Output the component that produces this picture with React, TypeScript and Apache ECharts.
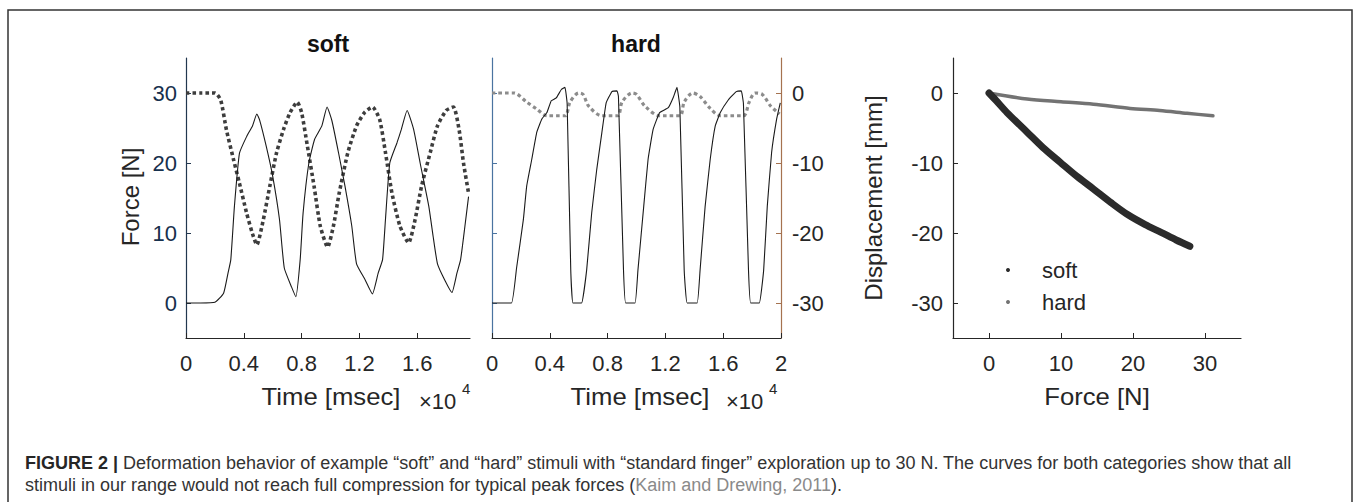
import React, { useEffect, useRef } from "react";
import * as echarts from "echarts";

// ---------- data ----------
const timeTickValues = [0, 4000, 8000, 12000, 16000, 20000];
const softTimeTickValues = [0, 4000, 8000, 12000, 16000];
const forceTickValues = [0, 10, 20, 30];
const dispTickValues = [0, -10, -20, -30];
const forceAxisTickValues = [0, 10, 20, 30];

// soft stimulus: time [msec] vs force [N]
const softForce: [number, number][] = [
  [0, 0], [1000, 0], [2000, 0.1], [2600, 1.4], [2900, 4.2], [3100, 6.2], [3350, 13.8], [3700, 21.4],
  [4200, 23.8], [4600, 25.3], [4900, 27], [5100, 26.1], [5550, 22.4], [6000, 18.1], [6470, 11.9],
  [6800, 5], [7300, 2.3], [7600, 0.9], [7900, 6.2], [8100, 12.8], [8500, 20], [8900, 23.4],
  [9400, 25.3], [9760, 28], [10100, 26], [10550, 21.5], [11000, 16.7], [11470, 11], [11800, 5.6],
  [12400, 3.3], [12900, 1.3], [13300, 4.3], [13600, 6.2], [13800, 11.9], [14100, 20], [14600, 22.9],
  [14900, 24.8], [15300, 27.5], [15750, 24.8], [16200, 20], [16800, 13.8], [17100, 9.5],
  [17400, 5.6], [17900, 3.3], [18400, 1.5], [18750, 4.3], [19000, 6.2], [19300, 11], [19550, 15.2],
];

// soft stimulus: time [msec] vs displacement [mm]
const softDisp: [number, number][] = [
  [0, 0], [1000, 0], [2000, 0], [2400, -1], [2800, -5.3], [3300, -9.6], [3700, -12.9], [4200, -17.2],
  [4600, -20.1], [4900, -21.7], [5350, -18.1], [5800, -13.3], [6270, -8.5], [6750, -5.2], [7200, -2.8],
  [7700, -1.3], [8000, -2.8], [8400, -7.6], [8860, -13.3], [9300, -19.1], [9800, -22], [10200, -19],
  [10600, -14.3], [11200, -8.5], [11800, -4.7], [12350, -2.8], [12900, -2], [13400, -3.8], [13800, -8.5],
  [14250, -14.3], [14800, -19], [15400, -21.4], [15850, -18.1], [16300, -13.3], [16900, -8.5],
  [17400, -4.7], [18000, -2.5], [18500, -2], [18900, -5.3], [19200, -10], [19550, -14.3],
];

// hard stimulus: time [msec] vs force [N]
const hardForce: [number, number][] = [
  [0, 0], [1350, 0], [1700, 5], [2170, 11.9], [2400, 16.7], [2750, 20.5], [3100, 24.4], [3450, 26.3],
  [3800, 27.2], [4100, 28.9], [4450, 29.3], [4800, 30.5], [5050, 30.8], [5200, 28.5], [5450, 4.7],
  [5600, 0], [6200, 0], [6550, 4.7], [6900, 12.9], [7250, 19.1], [7600, 24.3], [7900, 28.6],
  [8300, 30.2], [8650, 30.3], [8750, 29.5], [9100, 4.7], [9250, 0], [9900, 0], [10100, 4.7],
  [10500, 13.8], [10800, 20.5], [11150, 24.8], [11600, 27.2], [12200, 27.9], [12550, 29.4],
  [12800, 30.8], [13000, 28], [13300, 4.7], [13500, 0], [14200, 0], [14400, 4.7], [14750, 13.8],
  [15100, 20.5], [15450, 25.3], [15800, 27.2], [16350, 29], [16900, 30.2], [17250, 30.3],
  [17400, 28.5], [17750, 4.7], [17900, 0], [18500, 0], [18800, 4.7], [19050, 13.8], [19350, 21.5],
  [19700, 26.3], [19950, 28.6],
];

// hard stimulus: time [msec] vs displacement [mm]
const hardDisp: [number, number][] = [
  [0, 0], [1500, 0], [2400, -1.3], [3100, -2.3], [3800, -3.25], [5050, -3.25], [5400, -1.3],
  [6000, 0], [6300, -0.2], [6700, -1.9], [7600, -3.25], [8700, -3.25], [9000, -1.3], [9700, 0],
  [10000, -0.2], [10600, -1.9], [11600, -3.25], [13000, -3.25], [13300, -1.3], [13900, 0],
  [14400, -0.5], [15100, -2.2], [15800, -3.25], [17400, -3.25], [17800, -1.3], [18200, 0],
  [18700, -0.2], [19300, -1.9], [19900, -3],
];

// force [N] vs displacement [mm]
const softCurve: [number, number][] = [
  [0, 0], [1, -1.1], [2.5, -2.8], [5.3, -5.6], [7.5, -7.8], [9.9, -9.9], [12.2, -11.9], [14.5, -13.7],
  [17, -15.7], [19.3, -17.4], [21.7, -18.8], [23.9, -19.9], [26, -21], [27.9, -21.9],
];
const hardCurve: [number, number][] = [
  [0, 0], [5.3, -0.86], [10, -1.25], [14.5, -1.6], [19.6, -2.2], [23.7, -2.5], [27.5, -2.9], [31.1, -3.25],
];

const FONT = "'Liberation Sans', Arial, Helvetica, sans-serif";
const AXIS_DARK = "#262626";

const timeLabel = (v: number) => String(Math.round(v / 1000) / 10);

function timeAxis(gridIndex: number, max: number, ticks: number[]) {
  return {
    type: "value",
    gridIndex,
    min: 0,
    max,
    axisLine: { show: true, onZero: false, lineStyle: { color: AXIS_DARK, width: 1.2 } },
    axisTick: { show: true, inside: true, length: 5, customValues: ticks, lineStyle: { color: AXIS_DARK, width: 1 } },
    axisLabel: { customValues: ticks, formatter: timeLabel, fontSize: 22, color: AXIS_DARK, margin: 14, fontFamily: FONT },
    splitLine: { show: false },
  };
}

export default function App() {
  const ref = useRef<HTMLDivElement>(null);

  useEffect(() => {
    if (!ref.current) return;
    const chart = echarts.init(ref.current, undefined, { renderer: "svg" });

    const option: any = {
      animation: false,
      backgroundColor: "#ffffff",
      textStyle: { fontFamily: FONT },
      grid: [
        { left: 186, top: 58, width: 284, height: 280 },
        { left: 492, top: 58, width: 289, height: 280 },
        { left: 953, top: 58, width: 288, height: 280 },
      ],
      xAxis: [
        timeAxis(0, 19650, softTimeTickValues),
        timeAxis(1, 20000, timeTickValues),
        {
          type: "value",
          gridIndex: 2,
          min: -5,
          max: 35,
          axisLine: { show: true, onZero: false, lineStyle: { color: AXIS_DARK, width: 1.2 } },
          axisTick: { show: true, inside: true, length: 5, customValues: forceAxisTickValues, lineStyle: { color: AXIS_DARK } },
          axisLabel: { customValues: forceAxisTickValues, fontSize: 22, color: AXIS_DARK, margin: 14, fontFamily: FONT },
          splitLine: { show: false },
        },
      ],
      yAxis: [
        {
          type: "value",
          gridIndex: 0,
          position: "left",
          min: -5,
          max: 35,
          axisLine: { show: true, onZero: false, lineStyle: { color: "#22374f", width: 1.2 } },
          axisTick: { show: true, inside: true, length: 5, customValues: forceTickValues, lineStyle: { color: "#22374f" } },
          axisLabel: { customValues: forceTickValues, fontSize: 22, color: "#17304d", margin: 9, fontFamily: FONT },
          splitLine: { show: false },
        },
        { type: "value", gridIndex: 0, position: "right", min: -35, max: 5, show: false },
        {
          type: "value",
          gridIndex: 1,
          position: "left",
          min: -5,
          max: 35,
          axisLine: { show: true, onZero: false, lineStyle: { color: "#4a73a0", width: 1.2 } },
          axisTick: { show: true, inside: true, length: 5, customValues: forceTickValues, lineStyle: { color: "#4a73a0" } },
          axisLabel: { show: false },
          splitLine: { show: false },
        },
        {
          type: "value",
          gridIndex: 1,
          position: "right",
          min: -35,
          max: 5,
          axisLine: { show: true, onZero: false, lineStyle: { color: "#a5724f", width: 1.2 } },
          axisTick: { show: true, inside: true, length: 5, customValues: dispTickValues, lineStyle: { color: "#a5724f" } },
          axisLabel: { customValues: dispTickValues, fontSize: 22, color: AXIS_DARK, margin: 11, fontFamily: FONT },
          splitLine: { show: false },
        },
        {
          type: "value",
          gridIndex: 2,
          position: "left",
          min: -35,
          max: 5,
          axisLine: { show: true, onZero: false, lineStyle: { color: AXIS_DARK, width: 1.2 } },
          axisTick: { show: true, inside: true, length: 5, customValues: dispTickValues, lineStyle: { color: AXIS_DARK } },
          axisLabel: { customValues: dispTickValues, fontSize: 22, color: AXIS_DARK, margin: 10, fontFamily: FONT },
          splitLine: { show: false },
        },
      ],
      legend: {
        data: [
          { name: "soft", icon: "circle" },
          { name: "hard", icon: "circle" },
        ],
        orient: "vertical",
        left: 1001,
        top: 254,
        itemWidth: 58,
        itemHeight: 4,
        itemGap: 10,
        symbolKeepAspect: true,
        textStyle: { fontSize: 22, color: AXIS_DARK, fontFamily: FONT, lineHeight: 22 },
      },
      series: [
        {
          name: "soft force",
          type: "line",
          xAxisIndex: 0,
          yAxisIndex: 0,
          data: softForce,
          showSymbol: false,
          smooth: 0.15,
          lineStyle: { color: "#1a1a1a", width: 1.1 },
          z: 3,
        },
        {
          name: "soft displacement",
          type: "line",
          xAxisIndex: 0,
          yAxisIndex: 1,
          data: softDisp,
          showSymbol: false,
          smooth: 0.2,
          lineStyle: { color: "#3d3d3d", width: 3.6, type: [3.5, 3], cap: "butt" },
          z: 2,
        },
        {
          name: "hard force",
          type: "line",
          xAxisIndex: 1,
          yAxisIndex: 2,
          data: hardForce,
          showSymbol: false,
          smooth: 0.1,
          lineStyle: { color: "#1a1a1a", width: 1.1 },
          z: 3,
        },
        {
          name: "hard displacement",
          type: "line",
          xAxisIndex: 1,
          yAxisIndex: 3,
          data: hardDisp,
          showSymbol: false,
          smooth: 0.3,
          lineStyle: { color: "#8c8c8c", width: 3.2, type: [3.5, 3], cap: "butt" },
          z: 2,
        },
        {
          name: "soft",
          type: "line",
          xAxisIndex: 2,
          yAxisIndex: 4,
          data: softCurve,
          showSymbol: false,
          smooth: 0.3,
          color: "#2b2b2b",
          itemStyle: { color: "#2b2b2b" },
          lineStyle: { color: "#2b2b2b", width: 7, cap: "round", join: "round" },
          z: 3,
        },
        {
          name: "hard",
          type: "line",
          xAxisIndex: 2,
          yAxisIndex: 4,
          data: hardCurve,
          showSymbol: false,
          smooth: 0.3,
          color: "#737373",
          itemStyle: { color: "#737373" },
          lineStyle: { color: "#737373", width: 3.5, cap: "round", join: "round" },
          z: 2,
        },
      ],
      graphic: [
        {
          type: "rect",
          shape: { x: 8, y: 10, width: 1344, height: 600 },
          style: { fill: "none", stroke: "#333333", lineWidth: 1.5 },
          silent: true,
        },
        { type: "text", x: 328, y: 44, style: { text: "soft", fontSize: 23, fontWeight: "bold", fontFamily: FONT, fill: "#111", align: "center", verticalAlign: "middle" } },
        { type: "text", x: 636, y: 44, style: { text: "hard", fontSize: 23, fontWeight: "bold", fontFamily: FONT, fill: "#111", align: "center", verticalAlign: "middle" } },
        { type: "text", x: 331, y: 397, scaleX: 1.07, style: { text: "Time [msec]", fontSize: 24, fontFamily: FONT, fill: AXIS_DARK, align: "center", verticalAlign: "middle" } },
        { type: "text", x: 640, y: 397, scaleX: 1.07, style: { text: "Time [msec]", fontSize: 24, fontFamily: FONT, fill: AXIS_DARK, align: "center", verticalAlign: "middle" } },
        { type: "text", x: 1097, y: 397, scaleX: 1.07, style: { text: "Force [N]", fontSize: 24, fontFamily: FONT, fill: AXIS_DARK, align: "center", verticalAlign: "middle" } },
        { type: "text", x: 419, y: 401, style: { text: "×10", fontSize: 22, fontFamily: FONT, fill: AXIS_DARK, align: "left", verticalAlign: "middle" } },
        { type: "text", x: 462, y: 388, style: { text: "4", fontSize: 15, fontFamily: FONT, fill: AXIS_DARK, align: "left", verticalAlign: "middle" } },
        { type: "text", x: 726, y: 401, style: { text: "×10", fontSize: 22, fontFamily: FONT, fill: AXIS_DARK, align: "left", verticalAlign: "middle" } },
        { type: "text", x: 769, y: 388, style: { text: "4", fontSize: 15, fontFamily: FONT, fill: AXIS_DARK, align: "left", verticalAlign: "middle" } },
        { type: "text", x: 130, y: 197, rotation: Math.PI / 2, style: { text: "Force [N]", fontSize: 24, fontFamily: FONT, fill: AXIS_DARK, align: "center", verticalAlign: "middle" } },
        { type: "text", x: 873, y: 198, rotation: Math.PI / 2, style: { text: "Displacement [mm]", fontSize: 24, fontFamily: FONT, fill: AXIS_DARK, align: "center", verticalAlign: "middle" } },
        {
          type: "text",
          x: 25,
          y: 463,
          scaleX: 1.0,
          style: {
            text: "{b|FIGURE 2 |} Deformation behavior of example “soft” and “hard” stimuli with “standard finger” exploration up to 30 N. The curves for both categories show that all",
            rich: { b: { fontWeight: "bold", fontSize: 18, fontFamily: FONT, fill: "#262626" } },
            fontSize: 18,
            fontFamily: FONT,
            fill: "#333333",
            align: "left",
            verticalAlign: "middle",
          },
        },
        {
          type: "text",
          x: 25,
          y: 485,
          scaleX: 1.0,
          style: {
            text: "stimuli in our range would not reach full compression for typical peak forces ({g|Kaim and Drewing, 2011}).",
            rich: { g: { fontSize: 18, fontFamily: FONT, fill: "#8a8a8a" } },
            fontSize: 18,
            fontFamily: FONT,
            fill: "#333333",
            align: "left",
            verticalAlign: "middle",
          },
        },
      ],
    };

    chart.setOption(option);
    return () => {
      chart.dispose();
    };
  }, []);

  return (
    <div
      ref={ref}
      style={{ position: "absolute", left: 0, top: 0, width: 1354, height: 502, background: "#fff" }}
    />
  );
}
